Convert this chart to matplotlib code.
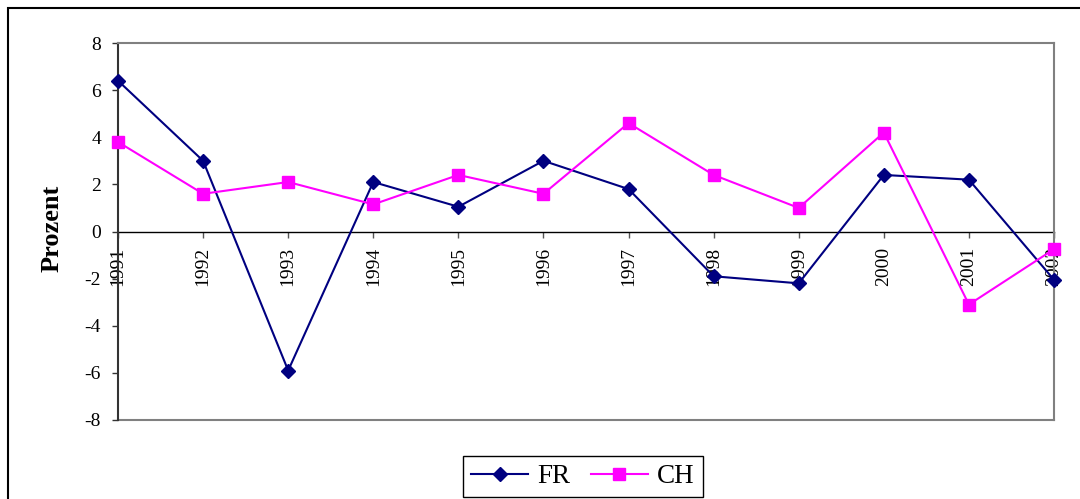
import matplotlib
matplotlib.use("Agg")
import matplotlib.pyplot as plt
from matplotlib.patches import Rectangle

plt.rcParams['axes.unicode_minus'] = False
plt.rcParams['font.family'] = ['Liberation Serif', 'DejaVu Serif']

years = ["1991", "1992", "1993", "1994", "1995", "1996", "1997", "1998", "1999", "2000", "2001", "2002"]
fr = [6.4, 3.0, -5.9, 2.1, 1.05, 3.0, 1.8, -1.9, -2.2, 2.4, 2.2, -2.05]
ch = [3.8, 1.6, 2.1, 1.15, 2.4, 1.6, 4.6, 2.4, 1.0, 4.2, -3.1, -0.75]
yticks = [-8, -6, -4, -2, 0, 2, 4, 6, 8]

W, H = 1080, 499
fig = plt.figure(figsize=(W / 100, H / 100), dpi=100)
ax = fig.add_axes([118 / W, 1 - 420 / H, (1054 - 118) / W, (420 - 43) / H])

ax.spines['bottom'].set_position(('data', 0))

x = list(range(len(years)))
l1, = ax.plot(x, fr, color='#000080', lw=1.5, marker='D', ms=7,
              markerfacecolor='#000080', markeredgecolor='#000080', clip_on=False, zorder=3)
l2, = ax.plot(x, ch, color='#FF00FF', lw=1.5, marker='s', ms=8,
              markerfacecolor='#FF00FF', markeredgecolor='#FF00FF', clip_on=False, zorder=4)

ax.set_xlim(0, len(years) - 1)
ax.set_ylim(-8, 8)
ax.set_yticks(yticks)
ax.set_yticklabels([str(v) for v in yticks])
ax.set_xticks(x)
ax.set_xticklabels(years, rotation=90, va='top', ha='center')

ax.spines['bottom'].set_color('black')
ax.spines['bottom'].set_linewidth(1.0)
ax.spines['bottom'].set_zorder(2)
ax.spines['left'].set_color('#333333')
ax.spines['left'].set_linewidth(1.5)
for s in ['top', 'right']:
    ax.spines[s].set_color('#808080')
    ax.spines[s].set_linewidth(1.5)
ax.axhline(-8, color='#808080', lw=1.5, clip_on=False, zorder=1)

ax.tick_params(axis='x', direction='out', length=4.3, width=1, color='#555555',
               pad=7, labelsize=14)
ax.tick_params(axis='y', direction='out', length=4.3, width=1, color='#333333',
               pad=8, labelsize=14)

fig.text(52 / W, 1 - 228 / H, 'Prozent', rotation=90, ha='center', va='center',
         fontsize=19, fontweight='bold')

# outer chart border (left and top visible)
fig.patches.append(Rectangle((8 / W, -0.2), 1.5, 1 - 8 / H + 0.2, transform=fig.transFigure,
                             fill=False, edgecolor='black', lw=1.5))

leg = fig.legend([l1, l2], ['FR', 'CH'], loc='upper left',
                 bbox_to_anchor=(463 / W, 1 - 456 / H), ncol=2, fontsize=19.5,
                 frameon=True, fancybox=False, edgecolor='black', framealpha=1,
                 handlelength=2.1, handletextpad=0.35, columnspacing=0.75,
                 borderpad=0.3, borderaxespad=0)
leg.get_frame().set_linewidth(1.0)

fig.savefig('out.png', dpi=100)
